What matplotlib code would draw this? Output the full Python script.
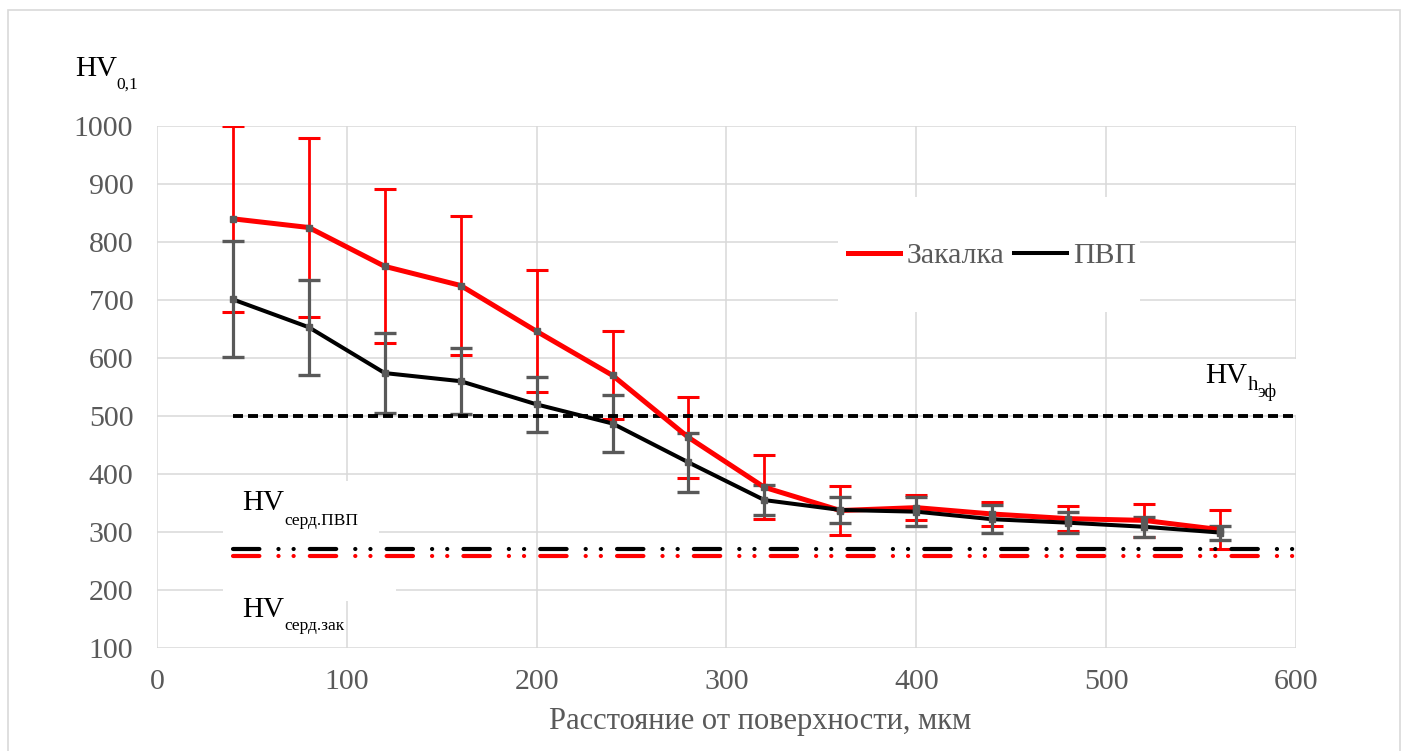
import numpy as np
import matplotlib
matplotlib.use("Agg")
import matplotlib.pyplot as plt
from matplotlib.patches import Rectangle

# данные
depth = [40, 80, 120, 160, 200, 240, 280, 320, 360, 400, 440, 480, 520, 560]
hv_zak = [840, 825, 758, 725, 646, 570, 463, 377, 337, 342, 331, 323, 320, 304]
err_zak = [160, 155, 133, 120, 105, 76, 70, 55, 43, 22, 21, 22, 29, 34]
hv_pvp = [701, 653, 574, 560, 520, 487, 420, 355, 338, 335, 322, 316, 309, 299]
err_pvp = [100, 82, 69, 57, 47, 49, 51, 26, 23, 25, 24, 18, 17, 12]

hv_eff = 500
hv_core_pvp = 271
hv_core_zak = 258
ref_x = [40, 600]

series_names = ["Закалка", "ПВП"]
xlabel = "Расстояние от поверхности, мкм"
xticks = [0, 100, 200, 300, 400, 500, 600]
yticks = [100, 200, 300, 400, 500, 600, 700, 800, 900, 1000]

RED = "#ff0000"
GRAY = "#595959"
GRID = "#d9d9d9"
SERIF = ["Liberation Serif", "DejaVu Serif"]

plt.rcParams["font.family"] = SERIF
plt.rcParams["lines.scale_dashes"] = False

fig = plt.figure(figsize=(14.1, 7.51), dpi=100)
ax = fig.add_axes([0.1113, 0.1372, 0.8078, 0.6950])

# рамка области диаграммы
fig.patches.append(Rectangle((0.0057, -0.01), 0.987, 0.997, transform=fig.transFigure,
                             fill=False, edgecolor=GRID, lw=1.2))

ax.set_xlim(0, 600)
ax.set_ylim(100, 1000)
ax.set_xticks(xticks)
ax.set_yticks(yticks)
ax.grid(True, color=GRID, lw=1.1, zorder=0)
ax.set_axisbelow(True)
for s in ax.spines.values():
    s.set_visible(False)
ax.tick_params(length=0, colors=GRAY, labelsize=21.5)
ax.tick_params(axis="y", pad=17)
ax.tick_params(axis="x", pad=15)
ax.set_xlabel(xlabel, color=GRAY, fontsize=22, labelpad=9, x=0.53)

# белые подложки под подписями и легендой
for (x0, y0, w, h) in [(35, 283, 82, 105), (35, 181, 91, 107), (540, 502, 62, 96)]:
    ax.add_patch(Rectangle((x0, y0), w, h, facecolor="white", edgecolor="none", zorder=1))
ax.add_patch(Rectangle((0.598, 0.644), 0.265, 0.22, transform=ax.transAxes,
                       facecolor="white", edgecolor="none", zorder=1))

# горизонтальные уровни
ax.plot(ref_x, [hv_eff, hv_eff], color="black", lw=2.8, dashes=(7.2, 3.6), zorder=2.5)
dd = (0, (19, 13.7, 0.1, 10.8, 0.1, 11.6))
ax.plot(ref_x, [hv_core_pvp] * 2, color="black", lw=3.0, linestyle=dd,
        dash_capstyle="round", zorder=2.5)
ax.plot(ref_x, [hv_core_zak] * 2, color=RED, lw=3.0, linestyle=dd,
        dash_capstyle="round", zorder=2.5)

# усы погрешностей
ax.errorbar(depth, hv_zak, yerr=err_zak, fmt="none", ecolor=RED, elinewidth=2.0,
            capsize=8, capthick=2.2, zorder=2)
ax.errorbar(depth, hv_pvp, yerr=err_pvp, fmt="none", ecolor=GRAY, elinewidth=2.3,
            capsize=8, capthick=2.4, zorder=2.2)

l1, = ax.plot(depth, hv_zak, color=RED, lw=3.6, zorder=3, label=series_names[0])
l2, = ax.plot(depth, hv_pvp, color="black", lw=2.9, zorder=3, label=series_names[1])
ax.plot(depth, hv_zak, ls="none", marker="s", ms=4, color=GRAY, zorder=3.5)
ax.plot(depth, hv_pvp, ls="none", marker="s", ms=4, color=GRAY, zorder=3.5)

leg = ax.legend(handles=[l1, l2], loc="center", bbox_to_anchor=(0.733, 0.751), ncol=2,
                frameon=False, fontsize=21.5, handlelength=1.75, handletextpad=0.2,
                columnspacing=0.35)
for t in leg.get_texts():
    t.set_color(GRAY)
leg.set_zorder(4)

# подписи уровней
ax.text(45, 338, "HV", fontsize=21, va="baseline", zorder=4)
ax.text(67, 312, "серд.ПВП", fontsize=12.5, va="baseline", zorder=4)
ax.text(45, 153, "HV", fontsize=21, va="baseline", zorder=4)
ax.text(67, 131, "серд.зак", fontsize=12.5, va="baseline", zorder=4)
ax.text(552, 557, "HV", fontsize=21, va="baseline", zorder=4)
ax.text(574.5, 545, "h", fontsize=15, va="baseline", zorder=4)
ax.text(579.5, 532, "эф", fontsize=13, va="baseline", zorder=4)

fig.text(0.0532, 0.8988, "HV", fontsize=21, va="baseline")
fig.text(0.0823, 0.8815, "0,1", fontsize=12.5, va="baseline")

fig.savefig("out.png", dpi=100)
